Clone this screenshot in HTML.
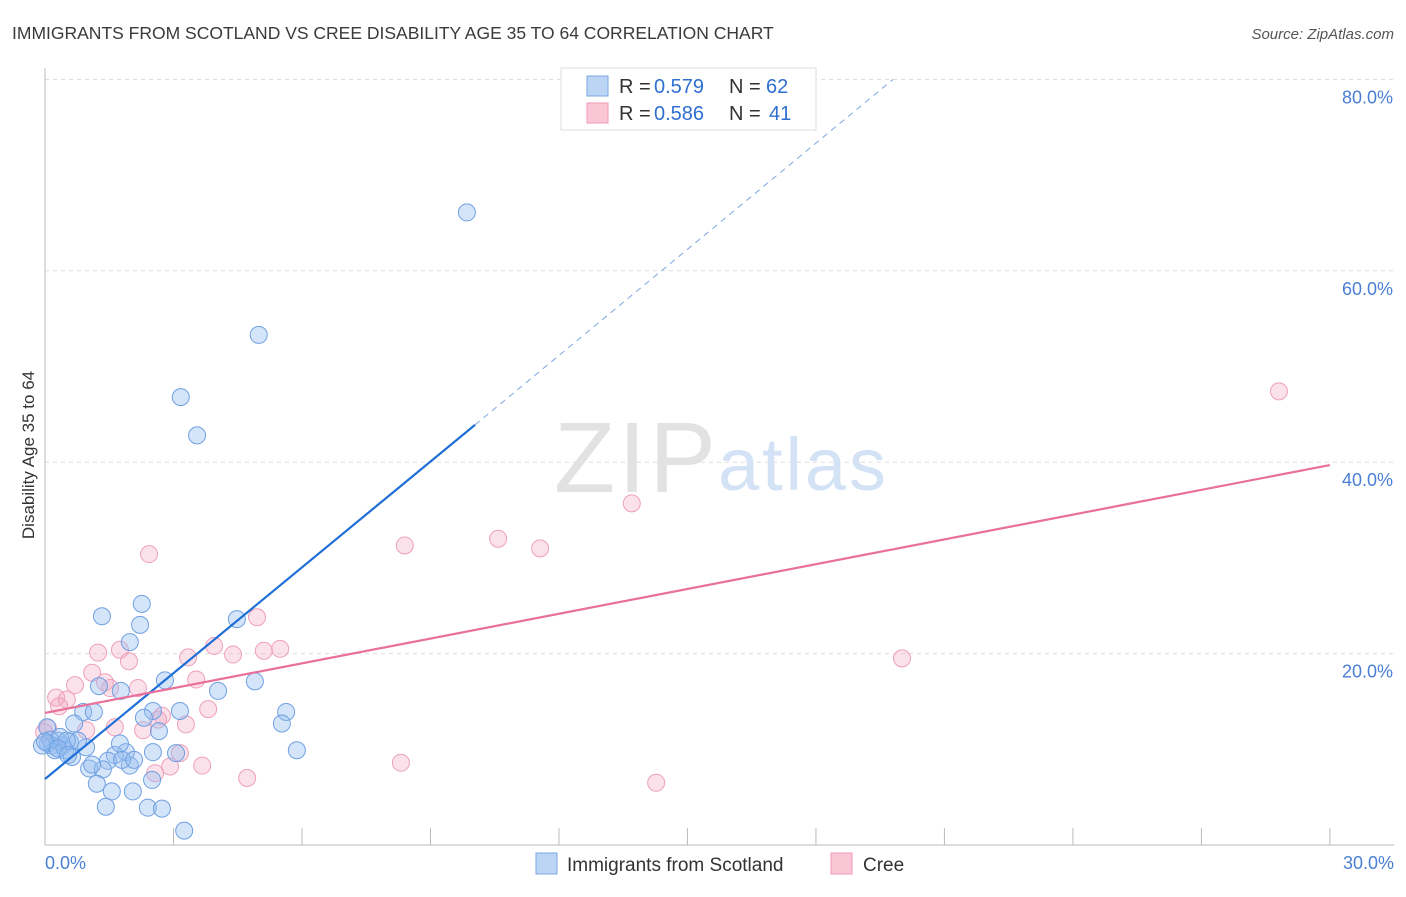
<!DOCTYPE html>
<html><head><meta charset="utf-8"><style>
body{margin:0;background:#fff;font-family:"Liberation Sans",sans-serif;}
svg text{font-family:"Liberation Sans",sans-serif;}
</style></head><body>
<svg id="chart" width="1406" height="892">
<text x="12" y="39" font-size="17.5" fill="#3a3a3a">IMMIGRANTS FROM SCOTLAND VS CREE DISABILITY AGE 35 TO 64 CORRELATION CHART</text>
<text x="1394" y="39" font-size="15" fill="#555" font-style="italic" text-anchor="end">Source: ZipAtlas.com</text>
<text x="34" y="455" font-size="17" fill="#333" text-anchor="middle" transform="rotate(-90 34 455)">Disability Age 35 to 64</text>
<g id="grid"></g><g id="axes"></g>
<text x="716" y="492" font-size="100" fill="#e2e2e2" text-anchor="end" font-family="Liberation Serif" textLength="162">ZIP</text>
<text x="718" y="490" font-size="74" fill="#d3e2f5" textLength="168">atlas</text>
<g id="pts"></g><g id="lines"></g>
<g>
<rect x="561" y="68" width="255" height="62" fill="#fff" stroke="#ddd"/>
<rect x="587" y="76" width="21" height="20" fill="#bcd5f5" stroke="#7aa8e6"/>
<rect x="587" y="103" width="21" height="20" fill="#fac6d6" stroke="#ee9ab6"/>
<text x="619" y="93" font-size="20" fill="#333">R =</text><text x="654" y="93" font-size="20" fill="#2f6fd0">0.579</text>
<text x="729" y="93" font-size="20" fill="#333">N =</text><text x="766" y="93" font-size="20" fill="#2f6fd0">62</text>
<text x="619" y="120" font-size="20" fill="#333">R =</text><text x="654" y="120" font-size="20" fill="#2f6fd0">0.586</text>
<text x="729" y="120" font-size="20" fill="#333">N =</text><text x="769" y="120" font-size="20" fill="#2f6fd0">41</text>
</g>
<g>
<rect x="536" y="853" width="21" height="21" fill="#bcd5f5" stroke="#7aa8e6"/>
<text x="567" y="871" font-size="19" fill="#333">Immigrants from Scotland</text>
<rect x="831" y="853" width="21" height="21" fill="#fac6d6" stroke="#ee9ab6"/>
<text x="863" y="871" font-size="19" fill="#333">Cree</text>
</g>
</svg>
<script>
const xTicks=[0,3,6,9,12,15,18,21,24,27,30];
const yTicks=[20,40,60,80];
const blueX=[9.85,4.99,3.17,3.55,1.33,2.26,2.22,1.98,4.48,2.80,4.04,4.90,1.77,1.26,0.89,1.14,0.68,2.52,3.15,2.31,2.66,5.63,5.53,5.88,3.06,2.52,1.89,1.63,1.47,1.98,1.80,0.96,0.58,0.42,0.30,0.16,0.07,0.23,0.47,0.63,1.03,1.35,1.21,1.56,2.05,2.50,1.42,2.40,2.73,3.25,0.05,0.12,0.35,0.77,1.10,2.08,1.75,0.51,-0.07,0.00,0.30,0.54];
const blueY=[66.1,53.3,46.8,42.8,23.9,25.2,23.0,21.2,23.6,17.2,16.1,17.1,16.1,16.6,13.9,13.9,12.7,14.0,14.0,13.3,11.9,13.9,12.7,9.9,9.6,9.7,9.7,9.4,8.8,8.3,8.9,10.2,10.8,10.4,10.9,10.4,10.6,9.9,9.9,9.2,8.0,7.9,6.4,5.6,5.6,6.8,4.0,3.9,3.8,1.5,12.3,11.0,11.3,10.9,8.4,8.9,10.6,10.9,10.4,10.8,10.1,9.4];
const pinkX=[28.81,13.70,2.43,8.40,10.58,11.56,4.95,3.95,4.39,3.34,5.11,5.49,1.75,1.24,1.96,1.10,0.70,0.26,0.51,1.40,2.17,1.52,3.53,3.81,2.73,3.29,1.63,0.96,2.29,3.15,0.33,0.07,20.01,2.92,2.57,4.72,3.67,8.31,14.27,2.64,-0.02];
const pinkY=[47.4,35.7,30.4,31.3,32.0,31.0,23.8,20.8,19.9,19.6,20.3,20.5,20.4,20.1,19.2,18.0,16.7,15.4,15.2,17.0,16.4,16.4,17.3,14.2,13.5,12.6,12.3,12.0,12.0,9.6,14.5,12.2,19.5,8.2,7.5,7.0,8.3,8.6,6.5,13.1,11.8];
const blueLine=[[0,6.9],[10.04,43.9],[19.8,80]];
const pinkLine=[[0,13.8],[30,39.7]];
const X=v=>45+v*42.83, Y=v=>845-v*9.57;
const NS="http://www.w3.org/2000/svg";
function mk(t,a,p){const e=document.createElementNS(NS,t);for(const k in a)e.setAttribute(k,a[k]);p.appendChild(e);return e;}
const grid=document.getElementById('grid'),axes=document.getElementById('axes'),pts=document.getElementById('pts'),lines=document.getElementById('lines');
yTicks.forEach(t=>{const l=mk('line',{x1:45,x2:1394,y1:Y(t),y2:Y(t),stroke:'#ddd','stroke-dasharray':'4,4'},grid);


const tx=mk('text',{x:1393,y:Y(t)+24,'font-size':18,fill:'#4a7fd4','text-anchor':'end'},axes);tx.textContent=t.toFixed(1)+'%';

});
const xa=mk('line',{x1:45,x2:1394,y1:845,y2:845,stroke:'#bbb'},axes);


const ya=mk('line',{x1:45,x2:45,y1:68,y2:845,stroke:'#bbb'},axes);


xTicks.forEach(t=>{const l=mk('line',{x1:X(t),x2:X(t),y1:828,y2:845,stroke:'#bbb'},axes);

});
[[0,'start'],[30,'end']].forEach(([t,a])=>{const tx=mk('text',{x:t==0?45:1394,y:869,'font-size':18,fill:'#4a7fd4','text-anchor':a},axes);tx.textContent=t.toFixed(1)+'%';

});
pinkX.forEach((x,i)=>{const c=mk('circle',{cx:X(x),cy:Y(pinkY[i]),r:8.5,fill:'rgba(244,170,196,0.35)',stroke:'#eea0bb','stroke-width':1},pts);

});
blueX.forEach((x,i)=>{const c=mk('circle',{cx:X(x),cy:Y(blueY[i]),r:8.5,fill:'rgba(150,190,240,0.4)',stroke:'#6fa0e2','stroke-width':1},pts);

});
const b1=mk('line',{x1:X(blueLine[0][0]),y1:Y(blueLine[0][1]),x2:X(blueLine[1][0]),y2:Y(blueLine[1][1]),stroke:'#1f6fd6','stroke-width':2.2},lines);


const b2=mk('line',{x1:X(blueLine[1][0]),y1:Y(blueLine[1][1]),x2:X(blueLine[2][0]),y2:Y(blueLine[2][1]),stroke:'#7aa6e0','stroke-width':1,'stroke-dasharray':'6,5'},lines);


const p1=mk('line',{x1:X(pinkLine[0][0]),y1:Y(pinkLine[0][1]),x2:X(pinkLine[1][0]),y2:Y(pinkLine[1][1]),stroke:'#e8709a','stroke-width':2.2},lines);


</script>
</body></html>
